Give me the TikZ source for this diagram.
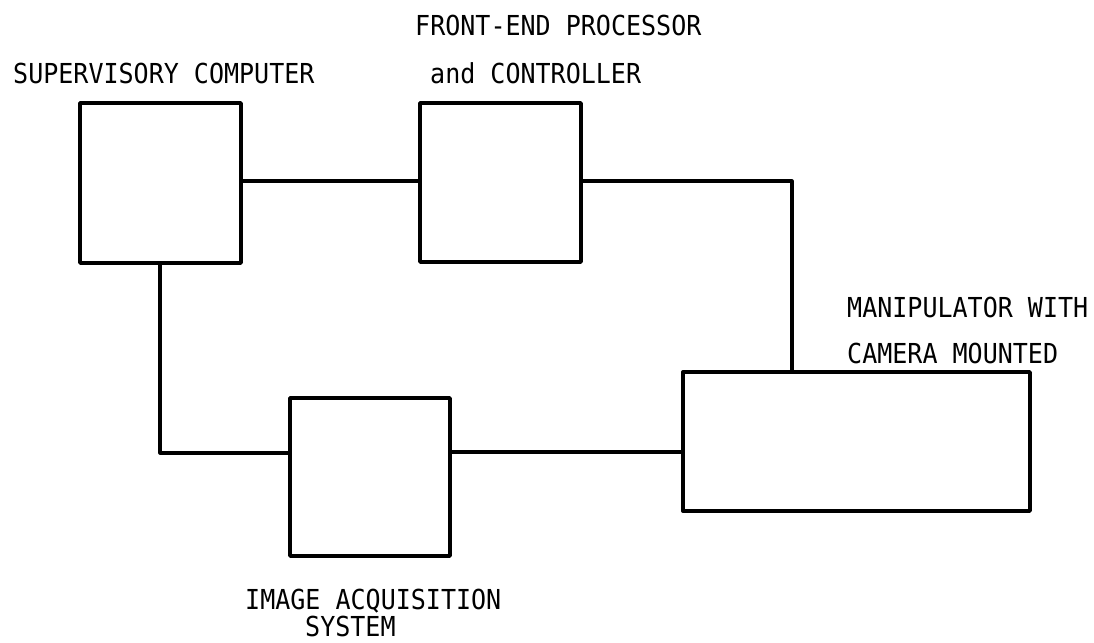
\documentclass[tikz,border=0pt]{standalone}
\usepackage{fontspec}
\newfontfamily\labelfont[FakeStretch=0.91]{DejaVu Sans Mono}
\begin{document}
\begin{tikzpicture}[x=1pt,y=-1pt,
  blockbox/.style={draw, line width=3.4pt, inner sep=0pt, line join=round},
  wire/.style={line width=3.1pt, line join=round},
  lbl/.style={anchor=base west, inner sep=0pt, font=\labelfont\fontsize{27.5}{30}\selectfont}]
\useasboundingbox[fill=white] (0,0) rectangle (1094,642);
% boxes
\node[blockbox, minimum width=161pt, minimum height=160pt] (sc) at (160.5,183) {};
\node[blockbox, minimum width=161pt, minimum height=159pt] (fe) at (500.5,182.5) {};
\node[blockbox, minimum width=160pt, minimum height=158pt] (ia) at (370,477) {};
\node[blockbox, minimum width=347pt, minimum height=139pt] (mn) at (856.5,441.5) {};
% connector corners
\coordinate (c1) at (792,181);
\coordinate (c2) at (160,453);
% connectors
\draw[wire] (sc.east |- 0,181) -- (fe.west |- 0,181);
\draw[wire] (fe.east |- 0,181) -- (c1) -- (c1 |- mn.north);
\draw[wire] (sc.south -| c2) -- (c2) -- (ia.west |- c2);
\draw[wire] (ia.east |- 0,452) -- (mn.west |- 0,452);
% labels
\node[lbl] (tsc) at (13,83) {SUPERVISORY COMPUTER};
\node[lbl] (tfe1) at (415,36) {FRONT-END PROCESSOR};
\node[lbl] (tfe2) at (430,83) {and CONTROLLER};
\node[lbl] (tmn1) at (847,317) {MANIPULATOR WITH};
\node[lbl] (tmn2) at (847,363) {CAMERA MOUNTED};
\node[lbl] (tia1) at (245,609) {IMAGE ACQUISITION};
\node[lbl] (tia2) at (305,636) {SYSTEM};
\end{tikzpicture}
\end{document}
